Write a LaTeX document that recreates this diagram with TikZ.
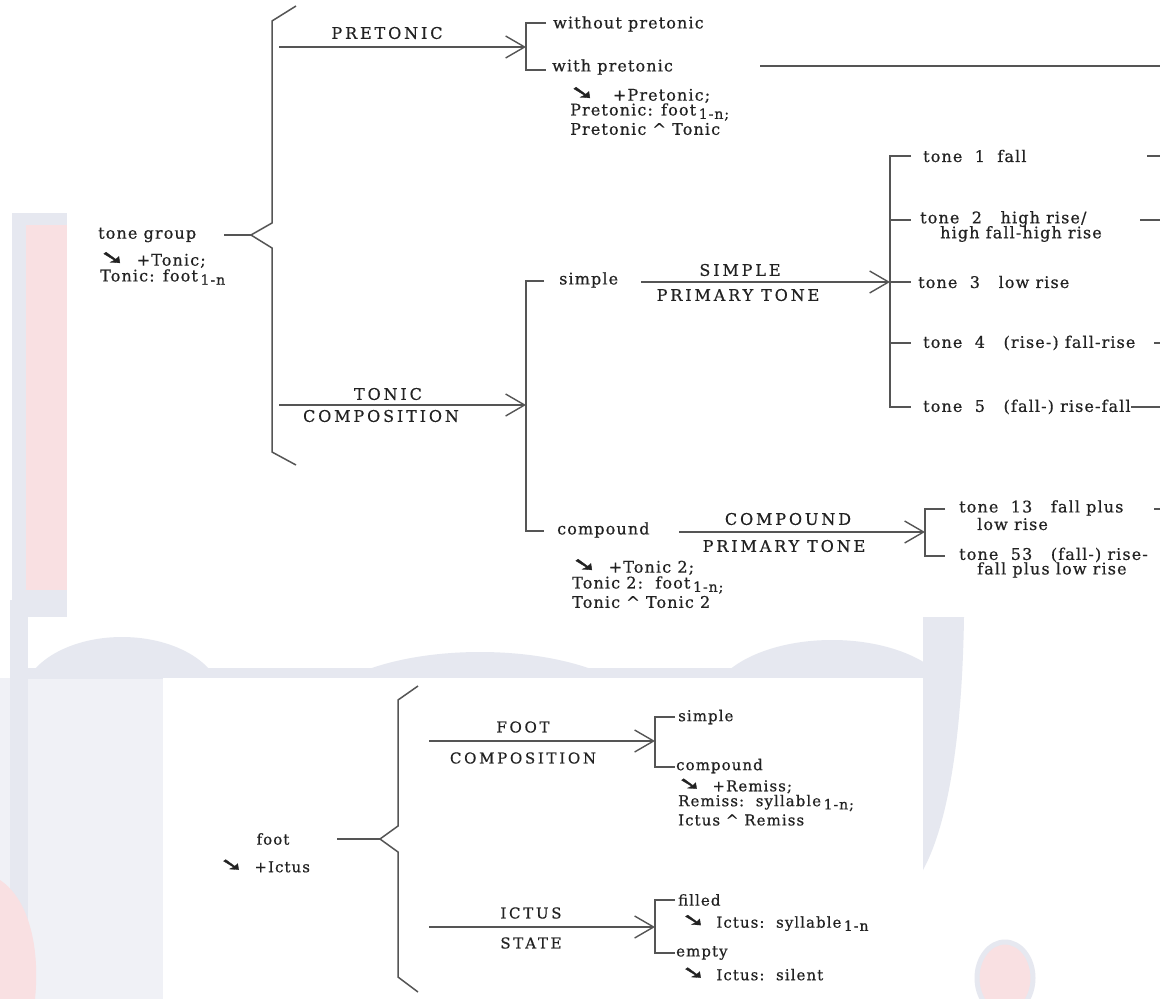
\documentclass[tikz,border=0pt]{standalone}
\usepackage{graphicx}
\usepackage{fontspec}
\setmainfont[LetterSpace=7,FakeBold=0.6]{DejaVu Serif}
\newfontfamily\capsf[LetterSpace=18,FakeBold=0.5]{DejaVu Serif}
\newfontfamily\arrf[FakeBold=1.5]{DejaVu Sans}
\usetikzlibrary{arrows.meta}
\definecolor{ink}{HTML}{222222}
\definecolor{linec}{HTML}{555555}
\definecolor{wmgrey}{HTML}{E6E8F0}
\definecolor{wmlight}{HTML}{F0F1F6}
\definecolor{wmpink}{HTML}{F9E0E2}
\newcommand\subtxt[1]{\raisebox{-0.4ex}{\fontsize{14}{14}\selectfont #1}}
\newcommand\searr{\raisebox{0.2ex}{\scalebox{1.8}[1.2]{\arrf ➘}}}
\begin{document}
\begin{tikzpicture}[x=1pt,y=-1pt,
  lbl/.style={inner sep=0pt, anchor=west, text=ink, font=\fontsize{16}{17}\selectfont},
  lbls/.style={inner sep=0pt, anchor=west, text=ink, font=\fontsize{15}{16}\selectfont},
  capl/.style={inner sep=0pt, text=ink, font=\capsf\fontsize{16}{17}\selectfont},
  capsm/.style={inner sep=0pt, text=ink, font=\capsf\fontsize{15}{16}\selectfont},
  ln/.style={draw=linec, line width=1.5pt, line join=miter},
  arr/.style={ln, -{Straight Barb[length=19pt, width=22pt, line width=1.4pt]}},
  wm/.style={fill=wmgrey, draw=none},
  wmp/.style={fill=wmpink, draw=none},
  sheet/.style={fill=white, draw=none}
]
\useasboundingbox (0,0) rectangle (1160,999);
% ---- background watermark ----
\fill[white] (0,0) rectangle (1160,999);
\path[wm] (12,213) rectangle (67,617);
\path[wmp] (26,225) rectangle (67,590);
\path[fill=wmlight] (0,678) rectangle (163,999);
\path[wm] (10,600) rectangle (28,999);
\begin{scope}
  \clip (0,600) rectangle (1160,678);
  \path[wm] (122,700) ellipse [x radius=100, y radius=63];
  \path[wm] (480,722) ellipse [x radius=170, y radius=70];
  \path[wm] (832,705) ellipse [x radius=122, y radius=65];
  \path[wm] (22,668) rectangle (962,700);
\end{scope}
\path[wm] (923,617) -- (964,617) .. controls (962,750) and (945,830) .. (923,870) -- cycle;
\path[wmp, draw=wmgrey, line width=5pt] (1005,978) ellipse [x radius=28, y radius=36];
\path[wmp] (0,880) .. controls (30,900) and (40,950) .. (35,999) -- (0,999) -- cycle;
% ---- sheets ----
\path[sheet] (67,0) rectangle (1160,617);
\path[sheet] (163,678) rectangle (923,999);

% ================= TOP DIAGRAM =================
\node[lbl] (tg) at (98,235) {tone group};
\node[lbl] (tg2) at (100,260) {\searr\ \ +Tonic;};
\node[lbl] (tg3) at (100,277) {Tonic: foot\,\subtxt{1-n}};

\coordinate (a0) at (296,6);
\coordinate (a1) at (272,21);
\coordinate (a2) at (272,223);
\coordinate (atip) at (251,235);
\coordinate (a3) at (272,248);
\coordinate (a4) at (272,452);
\coordinate (a5) at (296,465);
\coordinate (tgend) at (224,235);
\draw[ln] (a0) -- (a1) -- (a2) -- (atip) -- (a3) -- (a4) -- (a5);
\draw[ln] (tgend) -- (atip);

% PRETONIC
\coordinate (p0) at (279,47);
\coordinate (p1) at (526,47);
\draw[arr] (p0) -- (p1);
\node[capl] (pret) at (387,33) {PRETONIC};
\coordinate (b1) at (546,23);
\coordinate (b2) at (526,23);
\coordinate (b3) at (526,70);
\coordinate (b4) at (546,70);
\draw[ln] (b1) -- (b2) -- (b3) -- (b4);
\node[lbl] (wop) at (553,24) {without pretonic};
\node[lbl] (wp) at (552,67) {with pretonic};
\coordinate (wl0) at (760,66);
\coordinate (wl1) at (1160,66);
\draw[ln] (wl0) -- (wl1);
\node[lbl] (wp1) at (570,95) {\searr\ \ \ +Pretonic;};
\node[lbl] (wp2) at (570,112) {Pretonic: foot\,\subtxt{1-n;}};
\node[lbl] (wp3) at (570,129) {Pretonic \textasciicircum\ Tonic};

% TONIC COMPOSITION
\coordinate (t0) at (279,405);
\coordinate (t1) at (526,405);
\draw[arr] (t0) -- (t1);
\node[capl] (ton) at (388,394) {TONIC};
\node[capl] (comp) at (381,416) {COMPOSITION};
\coordinate (c1) at (544,281);
\coordinate (c2) at (526,281);
\coordinate (c3) at (526,531);
\coordinate (c4) at (544,531);
\draw[ln] (c1) -- (c2) -- (c3) -- (c4);
\node[lbl] (simp) at (559,280) {simple};
\node[lbl] (cmpd) at (557,530) {compound};

% SIMPLE PRIMARY TONE
\coordinate (s0) at (641,282);
\coordinate (s1) at (890,282);
\draw[arr] (s0) -- (s1);
\node[capl] (simpl) at (740,270) {SIMPLE};
\node[capl] (prim1) at (738,295) {PRIMARY TONE};
\coordinate (d1) at (911,156);
\coordinate (d2) at (890,156);
\coordinate (d3) at (890,407);
\coordinate (d4) at (911,407);
\draw[ln] (d1) -- (d2) -- (d3) -- (d4);
\coordinate (d2a) at (890,220); \coordinate (d2b) at (911,220);
\coordinate (d3b) at (911,282);
\coordinate (d4a) at (890,343); \coordinate (d4b) at (911,343);
\draw[ln] (d2a) -- (d2b);
\draw[ln] (s1) -- (d3b);
\draw[ln] (d4a) -- (d4b);
\node[lbl] (tn1) at (923,156) {tone\ \ 1\ \ fall};
\node[lbl] (tn2) at (920,219) {tone\ \ 2\ \ \ high rise/};
\node[lbl] (tn2b) at (940,234) {high fall-high rise};
\node[lbl] (tn3) at (918,282) {tone\ \ 3\ \ \ low rise};
\node[lbl] (tn4) at (923,343) {tone\ \ 4\ \ \ (rise-) fall-rise};
\node[lbl] (tn5) at (923,407) {tone\ \ 5\ \ \ (fall-) rise-fall};
% stubs at right edge
\coordinate (r1a) at (1147,156); \coordinate (r1b) at (1160,156);
\coordinate (r2a) at (1140,220); \coordinate (r2b) at (1160,220);
\coordinate (r4a) at (1154,343); \coordinate (r4b) at (1160,343);
\coordinate (r6a) at (1154,509); \coordinate (r6b) at (1160,509);
\coordinate (r5b) at (1160,407);
\draw[ln] (r1a) -- (r1b);
\draw[ln] (r2a) -- (r2b);
\draw[ln] (r4a) -- (r4b);
\draw[ln] (r6a) -- (r6b);
\draw[ln] (tn5.east) -- (r5b);

% COMPOUND PRIMARY TONE
\coordinate (k0) at (679,532);
\coordinate (k1) at (925,532);
\draw[arr] (k0) -- (k1);
\node[capl] (cmpl) at (788,519) {COMPOUND};
\node[capl] (prim2) at (784,546) {PRIMARY TONE};
\coordinate (e1) at (945,509);
\coordinate (e2) at (925,509);
\coordinate (e3) at (925,556);
\coordinate (e4) at (945,556);
\draw[ln] (e1) -- (e2) -- (e3) -- (e4);
\node[lbl] (tn13) at (959,508) {tone\ \ 13\ \ \ fall plus};
\node[lbl] (tn13b) at (977,524) {low rise};
\node[lbl] (tn53) at (959,555) {tone\ \ 53\ \ \ (fall-) rise-};
\node[lbl] (tn53b) at (977,570) {fall plus low rise};
\node[lbl] (ct1) at (572,567) {\searr\ \ +Tonic 2;};
\node[lbl] (ct2) at (572,585) {Tonic 2:\ \ foot\,\subtxt{1-n;}};
\node[lbl] (ct3) at (572,602) {Tonic \textasciicircum\ Tonic 2};

% ================= BOTTOM DIAGRAM =================
\node[lbls, anchor=center] (ft) at (273,839) {foot};
\node[lbls] (ft2) at (220,866) {\searr\ \ +Ictus};
\coordinate (f0) at (418,686);
\coordinate (f1) at (398,700);
\coordinate (f2) at (398,826);
\coordinate (ftip) at (380,839);
\coordinate (f3) at (398,852);
\coordinate (f4) at (398,977);
\coordinate (f5) at (418,992);
\coordinate (ftend) at (337,839);
\draw[ln] (f0) -- (f1) -- (f2) -- (ftip) -- (f3) -- (f4) -- (f5);
\draw[ln] (ftend) -- (ftip);

\coordinate (g0) at (429,741);
\coordinate (g1) at (655,741);
\draw[arr] (g0) -- (g1);
\node[capsm] (foo) at (523,727) {FOOT};
\node[capsm] (fcomp) at (523,758) {COMPOSITION};
\coordinate (h1) at (675,717);
\coordinate (h2) at (655,717);
\coordinate (h3) at (655,767);
\coordinate (h4) at (675,767);
\draw[ln] (h1) -- (h2) -- (h3) -- (h4);
\node[lbls] (fs) at (678,717) {simple};
\node[lbls] (fc) at (676,766) {compound};
\node[lbls] (fr1) at (678,786) {\searr\ \ +Remiss;};
\node[lbls] (fr2) at (678,803) {Remiss:\ \ syllable\,\subtxt{1-n;}};
\node[lbls] (fr3) at (678,820) {Ictus \textasciicircum\ Remiss};

\coordinate (i0) at (429,927);
\coordinate (i1) at (655,927);
\draw[arr] (i0) -- (i1);
\node[capsm] (ict) at (531,913) {ICTUS};
\node[capsm] (sta) at (531,943) {STATE};
\coordinate (j1) at (675,900);
\coordinate (j2) at (655,900);
\coordinate (j3) at (655,953);
\coordinate (j4) at (675,953);
\draw[ln] (j1) -- (j2) -- (j3) -- (j4);
\node[lbls] (fl) at (678,900) {filled};
\node[lbls] (fl2) at (682,923) {\searr\ \ Ictus:\ \ syllable\,\subtxt{1-n}};
\node[lbls] (em) at (676,953) {empty};
\node[lbls] (em2) at (682,974) {\searr\ \ Ictus:\ \ silent};
\end{tikzpicture}
\end{document}
